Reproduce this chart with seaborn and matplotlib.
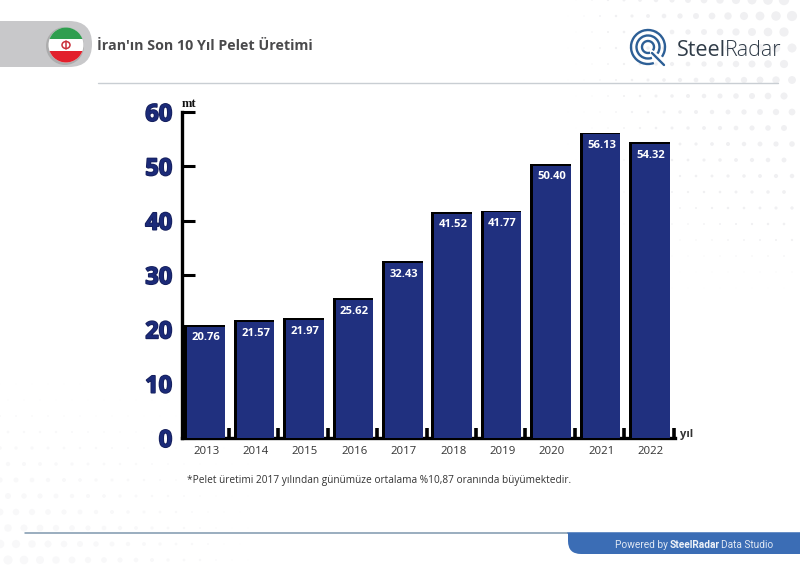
"""
Iran pellet production, last 10 years - SteelRadar style bar chart
"""

import matplotlib
matplotlib.use('Agg')
import matplotlib.pyplot as plt
import matplotlib.patches as mpatches
import matplotlib.patheffects as pe
import matplotlib.transforms as mtrans
import numpy as np
import pandas as pd
import seaborn as sns

# ── Data ───────────────────────────────────────────────────────────────────────
years = ['2013', '2014', '2015', '2016', '2017', '2018', '2019', '2020', '2021', '2022']
output_mt = [20.76, 21.57, 21.97, 25.62, 32.43, 41.52, 41.77, 50.40, 56.13, 54.32]
y_ticks = [0, 10, 20, 30, 40, 50, 60]

TITLE = "İran'ın Son 10 Yıl Pelet Üretimi"
NOTE = "*Pelet üretimi 2017 yılından günümüze ortalama %10,87 oranında büyümektedir."

NAVY = "#20307f"
TICK_NAVY = "#1b2a78"
W, H = 800, 566

sns.set_theme(style="white")
plt.rcParams['font.family'] = ['Open Sans', 'DejaVu Sans']

fig = plt.figure(figsize=(W / 100, H / 100), dpi=100, facecolor='white')

# ── Page layer, in pixels ──────────────────────────────────────────────────────
page = fig.add_axes([0, 0, 1, 1], zorder=0)
page.set_xlim(0, W)
page.set_ylim(H, 0)
page.axis('off')

# faint halftone dots behind everything
gx, gy = np.meshgrid(np.arange(0, W, 16), np.arange(0, H, 16))
gx = gx + (np.arange(gy.shape[0]) % 2)[:, None] * 8
fade_top = np.clip((gx - 560) / 240, 0, 1) * np.clip(1 - gy / 300, 0, 1)
fade_low = np.clip((260 - gx) / 260, 0, 1) * np.clip((gy - 380) / 186, 0, 1)
page.scatter(gx.ravel(), gy.ravel(), s=(fade_top.ravel() * 8) ** 2, c='#f0f0f2', linewidths=0, zorder=0)
page.scatter(gx.ravel(), gy.ravel(), s=(fade_low.ravel() * 7) ** 2, c='#f8f8f9', linewidths=0, zorder=0)

# header
page.add_patch(mpatches.FancyBboxPatch((-40, 21), 132, 46, boxstyle="round,pad=0,rounding_size=23",
                                       fc='#c8c8ca', ec='none', zorder=1))
page.plot([98, 778], [83, 83], color='#c9ced3', lw=1, zorder=1)
page.text(97, 46, TITLE, fontsize=10.3, fontweight='bold', color='#4a4a4c', va='center', zorder=3)

# flag
flag = mpatches.Circle((66, 45), 17.5, fc='white', ec='none', zorder=3)
page.add_patch(mpatches.Circle((65, 46), 19, fc='#9a9a9a', ec='none', alpha=0.6, zorder=2))
page.add_patch(flag)
for y0, col in [(27, '#2f9e4f'), (51, '#e2202c')]:
    band = mpatches.Rectangle((45, y0), 42, 12 if y0 == 27 else 13, fc=col, ec='none', zorder=4)
    page.add_patch(band)
    band.set_clip_path(flag)
page.add_patch(mpatches.Ellipse((66, 45), 8, 7, fc='none', ec='#c9303a', lw=1.1, zorder=5))
page.plot([66, 66], [41, 49], color='#c9303a', lw=1.1, zorder=5)

# logo
for r, start, end in [(17, 70, 395), (11.5, 70, 395), (6, 70, 395)]:
    page.add_patch(mpatches.Arc((648, 47), 2 * r, 2 * r, theta1=start, theta2=end,
                                color='#2d5f96', lw=1.7, zorder=3))
page.plot([652, 664], [53, 65], color='#2d5f96', lw=1.7, zorder=3)
page.text(677, 50, "Steel", fontsize=15.5, fontweight='medium', color='#2f3b47', va='center', zorder=3)
page.text(725, 50, "Radar", fontsize=15.5, fontweight='light', color='#2f3b47', va='center', zorder=3)

# footer
page.plot([25, 570], [532.5, 532.5], color='#7f97ad', lw=1.1, zorder=1)
page.add_patch(mpatches.FancyBboxPatch((568, 510), 260, 44, boxstyle="round,pad=0,rounding_size=13",
                                       fc='#3b6db5', ec='none', zorder=2, clip_on=True))
page.add_patch(mpatches.Rectangle((568, 500), 260, 33, fc='white', ec='none', zorder=2.1))
page.plot([568, 800], [532.5, 532.5], color='#3b6db5', lw=1.1, zorder=2.2)
page.text(615, 544.5, "Powered by", fontsize=7.3, color='#dfe7f3', va='center', zorder=3, family='Roboto')
page.text(670, 544.5, "SteelRadar", fontsize=7.3, fontweight='bold', color='#eef2f8', va='center', zorder=3, family='Roboto')
page.text(721, 544.5, "Data Studio", fontsize=7.3, color='#dfe7f3', va='center', zorder=3, family='Roboto')

# footnote
page.text(187, 480, NOTE, fontsize=7.25, color='#333333', va='center', zorder=3)

# ── Chart ──────────────────────────────────────────────────────────────────────
left, right, top, bottom = 182, 675, 112, 438
ax = fig.add_axes([left / W, 1 - bottom / H, (right - left) / W, (bottom - top) / H], zorder=2)
ax.patch.set_alpha(0)

df = pd.DataFrame({'year': years, 'mt': output_mt})

# black shadow bars (left and top edge), then navy on top
sns.barplot(data=df, x='year', y='mt', color='black', width=0.82, saturation=1, linewidth=0, ax=ax, zorder=2)
shifted = mtrans.offset_copy(ax.transData, fig=fig, x=-1.08, y=0.3, units='points')
for bar in ax.patches:
    bar.set_transform(shifted)
sns.barplot(data=df, x='year', y='mt', color=NAVY, width=0.76, saturation=1, linewidth=0, ax=ax, zorder=3)
navy_bars = ax.containers[-1]
lowered = mtrans.offset_copy(ax.transData, fig=fig, x=0, y=-1.0, units='points')
for bar in navy_bars:
    bar.set_transform(lowered)
ax.bar_label(navy_bars, fmt='%.2f', padding=-13, color='white', fontsize=8.1, fontweight='bold', zorder=4)

ax.set_xlim(-0.49, 9.49)
ax.set_ylim(0, 60)
ax.set_xlabel('')
ax.set_ylabel('')
ax.set_yticks(y_ticks)
ax.tick_params(axis='y', left=True, length=9.4, width=2.2, direction='in', color='black', pad=7)
ax.tick_params(axis='x', length=0, pad=6)
ax.set_xticks(np.arange(len(years)) + 0.46, minor=True)
ax.tick_params(axis='x', which='minor', length=7, width=2.6, direction='in', color='black', bottom=True)
for lab in ax.get_xticklabels():
    lab.set_fontsize(8.2)
    lab.set_color('#333333')
for lab in ax.get_yticklabels():
    lab.set_fontsize(17)
    lab.set_fontweight('bold')
    lab.set_color(TICK_NAVY)
    lab.set_path_effects([pe.withStroke(linewidth=1.2, foreground='#141e5a')])
    lab.set_clip_on(False)

sns.despine(ax=ax)
for side in ['left', 'bottom']:
    ax.spines[side].set_linewidth(2.4)
    ax.spines[side].set_color('black')

ax.text(0.0, 1.005, "mt", transform=ax.transAxes, fontsize=9, fontweight='bold', color='#111111',
        va='bottom', ha='left', family='Liberation Serif')
ax.text(1.01, 0.012, "yıl", transform=ax.transAxes, fontsize=8, fontweight='bold', color='#333333',
        va='center', ha='left', clip_on=False)

fig.savefig("out.png", dpi=100)
plt.close(fig)
